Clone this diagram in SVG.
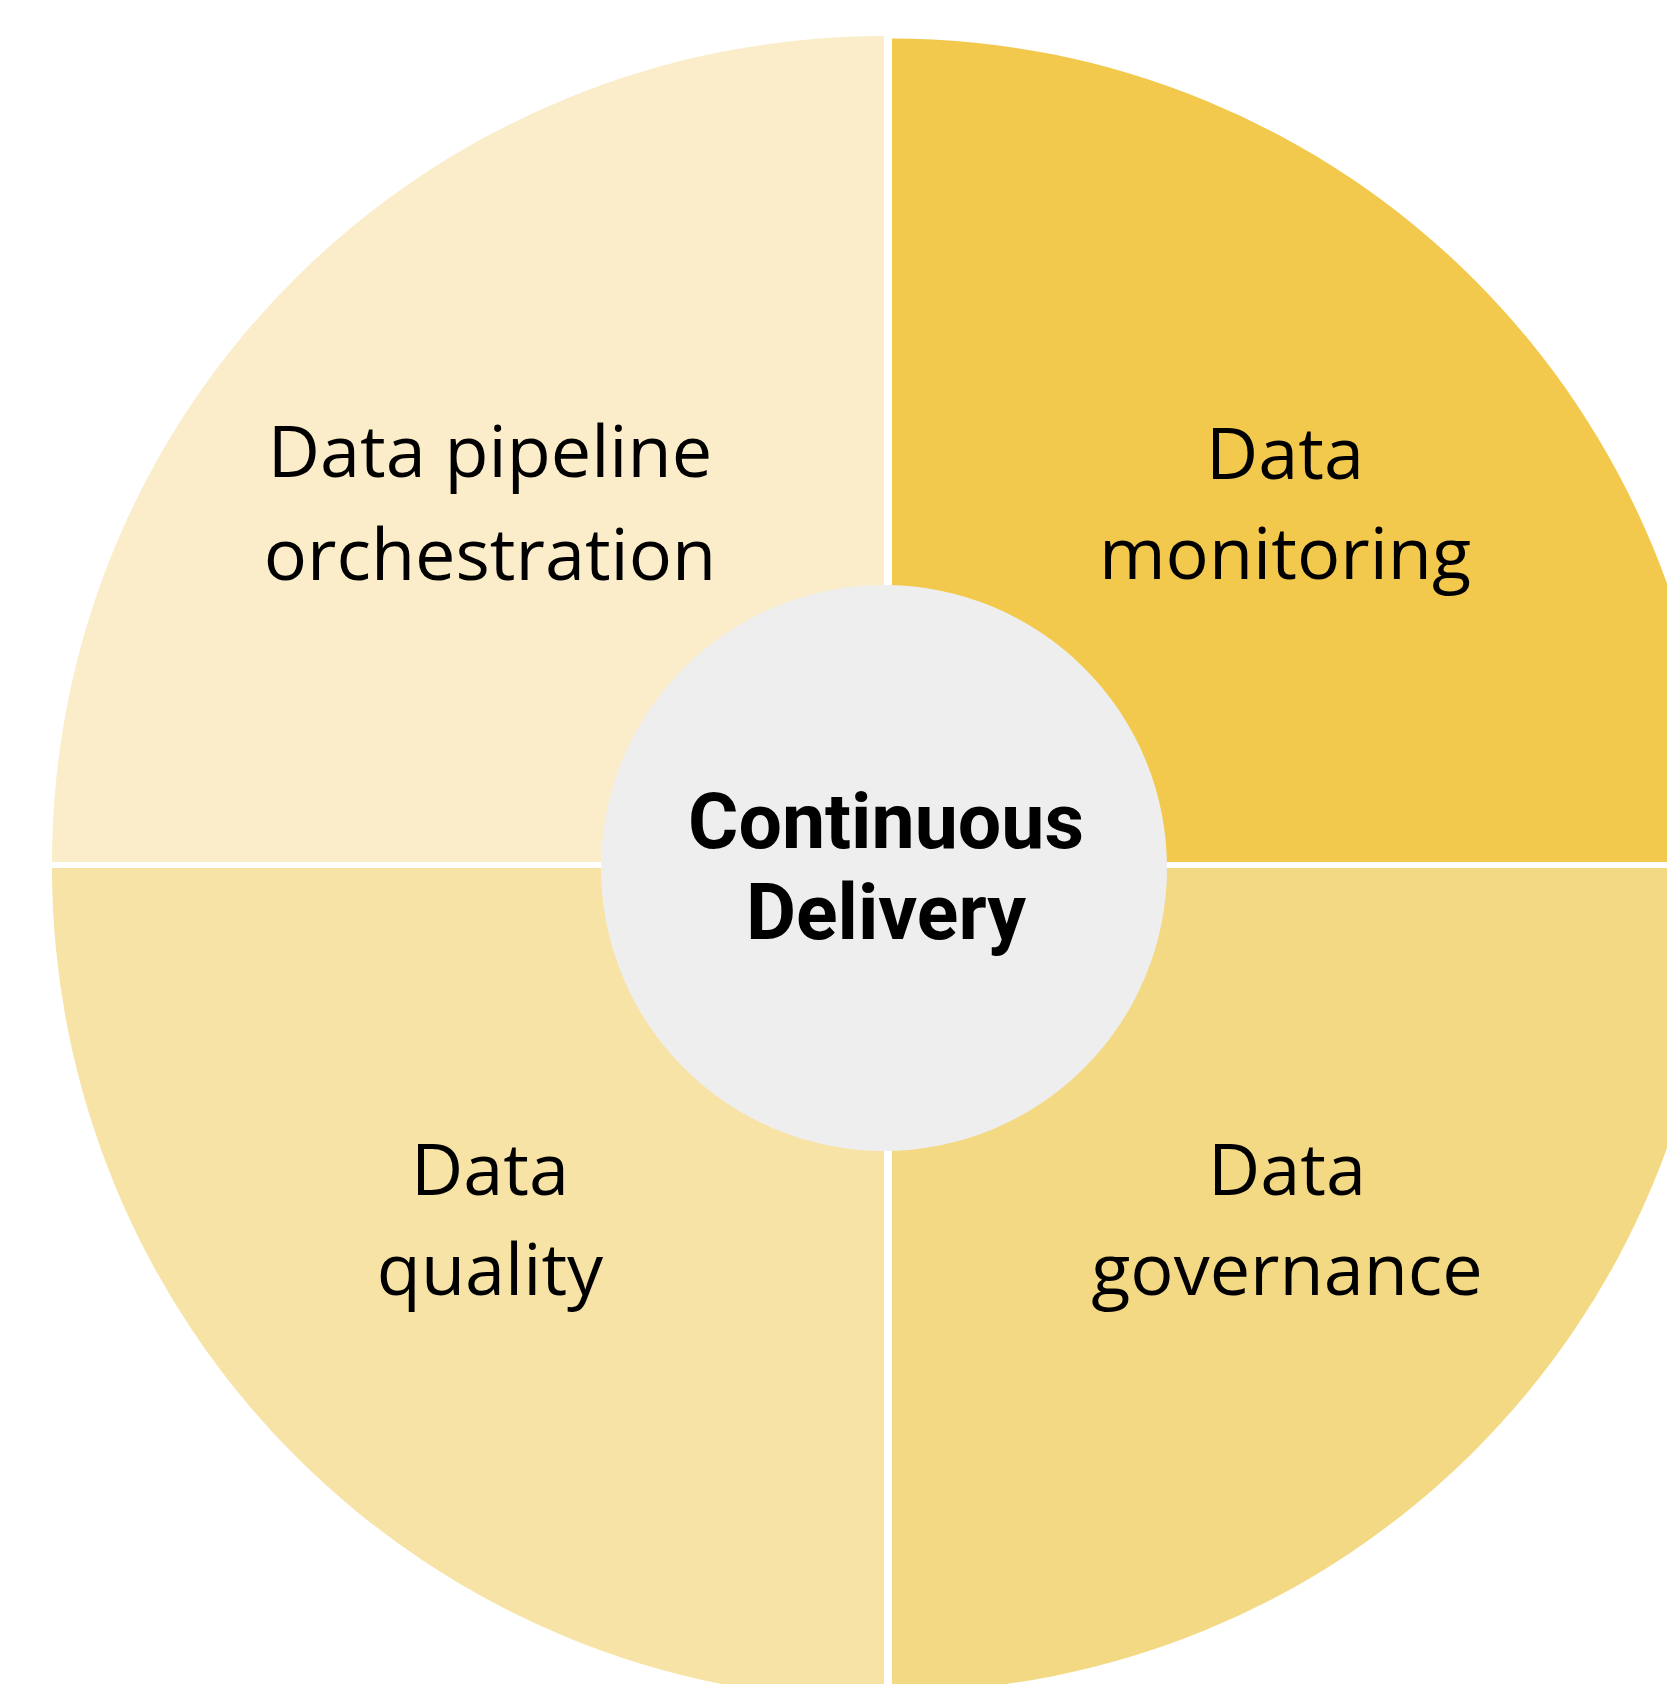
<svg xmlns="http://www.w3.org/2000/svg" width="1667" height="1684" viewBox="0 0 1667 1684">
<style>
.lbl{font-family:"Open Sans","Noto Sans",sans-serif;font-size:72px;fill:#000;text-anchor:middle}
.ctr{font-family:Roboto,"Open Sans",sans-serif;font-weight:bold;font-size:77px;fill:#000;text-anchor:middle}
</style>
<rect width="1667" height="1684" fill="#fff"/>
<g id="q-orchestration">
<path d="M884,862 L52,862 A832,826 0 0 1 884,36 Z" fill="#FBEDCA"/>
<text class="lbl" x="490" y="477">Data pipeline</text>
<text class="lbl" x="490" y="580">orchestration</text>
</g>
<g id="q-monitoring">
<path d="M892,862 L892,38.5 A823.5,823.5 0 0 1 1715.5,862 Z" fill="#F2C94C"/>
<text class="lbl" x="1285" y="479">Data</text>
<text class="lbl" x="1285" y="579">monitoring</text>
</g>
<g id="q-quality">
<path d="M884,868 L884,1700 A832,832 0 0 1 52,868 Z" fill="#F7E3A5"/>
<text class="lbl" x="490" y="1195">Data</text>
<text class="lbl" x="490" y="1295">quality</text>
</g>
<g id="q-governance">
<path d="M892,868 L1716,868 A824,824 0 0 1 892,1692 Z" fill="#F3D983"/>
<text class="lbl" x="1287" y="1195">Data</text>
<text class="lbl" x="1287" y="1295">governance</text>
</g>
<g id="center">
<circle cx="884" cy="868" r="283" fill="#EEEEEE"/>
<text class="ctr" x="886" y="848">Continuous</text>
<text class="ctr" x="886" y="939">Delivery</text>
</g>
<g id="connectors"/>
</svg>
